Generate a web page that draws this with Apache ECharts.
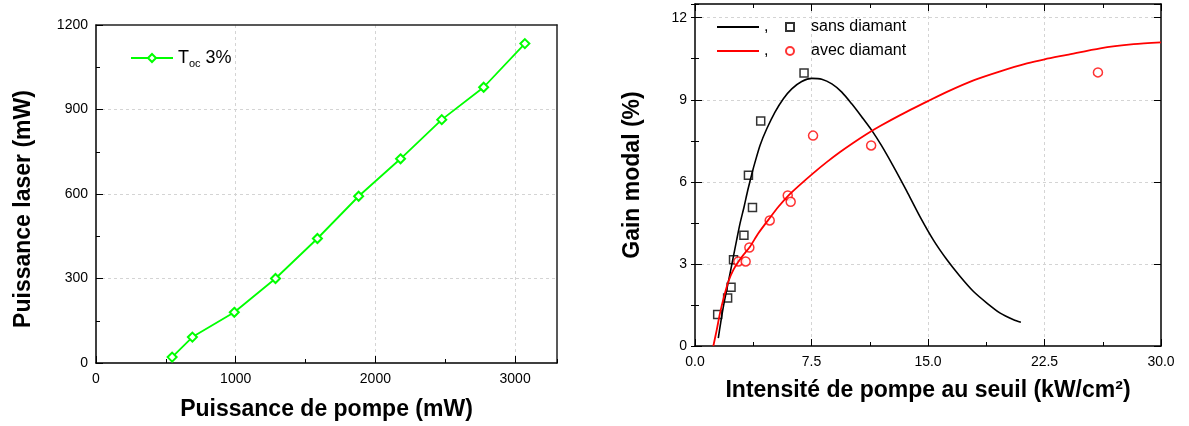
<!DOCTYPE html>
<html><head><meta charset="utf-8">
<script src="https://cdn.jsdelivr.net/npm/echarts@6/dist/echarts.min.js"></script>
<style>html,body{margin:0;padding:0;background:#fff}#c{width:1189px;height:426px}</style>
</head><body><div id="c"></div>
<script>
// ---- Left chart data ----
const pumpPower = [545, 690, 990, 1285, 1585, 1880, 2180, 2475, 2775, 3070];
const laserPower = [21, 92, 180, 300, 442, 592, 725, 864, 979, 1134];

// ---- Right chart data ----
const sansX = [1.46, 2.10, 2.32, 2.48, 3.15, 3.44, 3.70, 4.23, 7.02];
const sansY = [1.15, 1.75, 2.15, 3.15, 4.05, 6.24, 5.06, 8.22, 9.98];
const avecX = [2.79, 3.26, 3.50, 4.81, 5.97, 6.16, 7.60, 11.34, 25.94];
const avecY = [3.09, 3.09, 3.60, 4.59, 5.50, 5.27, 7.69, 7.33, 10.0];

const sansFitX = [1.50, 1.65, 1.83, 2.04, 2.26, 2.47, 2.68, 2.90, 3.16, 3.40, 3.70, 3.87, 4.19, 4.62, 5.15, 5.69, 6.23, 6.87, 7.52, 8.16, 8.81, 9.45, 10.09, 10.74, 11.38, 12.00, 12.70, 13.21, 13.64, 14.50, 15.36, 16.22, 17.07, 17.93, 18.79, 19.65, 20.51, 20.98];
const sansFitY = [0.29, 0.84, 1.45, 2.05, 2.66, 3.27, 3.87, 4.48, 5.09, 5.70, 6.38, 6.73, 7.34, 7.94, 8.55, 9.04, 9.40, 9.67, 9.78, 9.75, 9.58, 9.28, 8.85, 8.37, 7.88, 7.33, 6.64, 6.11, 5.65, 4.71, 3.86, 3.15, 2.54, 1.99, 1.57, 1.20, 0.96, 0.87];

const avecFitX = [1.18, 1.40, 1.61, 1.87, 2.15, 2.47, 2.79, 3.16, 3.54, 4.08, 4.72, 5.37, 6.01, 6.77, 7.62, 8.48, 9.34, 10.20, 11.06, 11.92, 13.21, 15.03, 16.22, 17.93, 19.65, 21.37, 22.51, 23.95, 26.09, 28.24, 30.0];
const avecFitY = [0.0, 0.59, 1.20, 1.81, 2.36, 2.78, 3.08, 3.36, 3.63, 4.12, 4.61, 5.09, 5.50, 5.90, 6.32, 6.72, 7.09, 7.43, 7.75, 8.04, 8.44, 8.96, 9.29, 9.71, 10.04, 10.33, 10.48, 10.64, 10.88, 11.03, 11.10];

const leftXTicks = [0, 1000, 2000, 3000];
const leftYTicks = [0, 300, 600, 900, 1200];
const rightXTicks = [0, 7.5, 15, 22.5, 30];
const rightYTicks = [0, 3, 6, 9, 12];

const zip = (a, b) => a.map((v, i) => [v, b[i]]);
const FONT = 'Liberation Sans, Arial, sans-serif';
const black = '#000';
const split = { show: true, showMinLine: false, showMaxLine: false, lineStyle: { color: '#d4d4d4', type: [3, 3], width: 1 } };
const label = { color: black, fontSize: 14, fontFamily: FONT, margin: 8 };
const xLabel = { color: black, fontSize: 14, fontFamily: FONT, margin: 9 };
const lineIcon = 'rect';

function majorAxis(o) {
  return Object.assign({
    type: 'value',
    axisLine: { show: true, onZero: false, lineStyle: { color: black, width: 1.5 } },
    axisTick: { show: true, inside: true, length: 7, lineStyle: { color: black, width: 1 } },
    axisLabel: Object.assign({}, label),
    splitLine: { show: false }
  }, o);
}
function minorAxis(o) {
  return Object.assign({
    type: 'value',
    axisLine: { show: false },
    axisTick: { show: true, inside: true, length: 4, lineStyle: { color: black, width: 1 } },
    axisLabel: { show: false },
    splitLine: { show: false }
  }, o);
}
function frameAxis(o) {
  return Object.assign({
    type: 'value',
    axisLine: { show: true, onZero: false, lineStyle: { color: '#222', width: 1.5 } },
    axisTick: { show: false }, axisLabel: { show: false }, splitLine: { show: false }
  }, o);
}

const chart = echarts.init(document.getElementById('c'), null, { renderer: 'canvas' });
chart.setOption({
  backgroundColor: '#fff',
  animation: false,
  textStyle: { fontFamily: FONT },
  grid: [
    { left: 96, right: 632, top: 25, bottom: 61 },
    { left: 695, right: 28, top: 4, bottom: 80 }
  ],
  legend: [
    {
      data: ['Toc'], left: 130, top: 49, padding: 0, itemWidth: 42, itemHeight: 10, itemGap: 5,
      formatter: () => '{n|T}{s|oc}{n| 3%}',
      textStyle: {
        rich: {
          n: { fontSize: 18, fontFamily: FONT, color: black, lineHeight: 22 },
          s: { fontSize: 11, fontFamily: FONT, color: black, lineHeight: 12, verticalAlign: 'bottom', padding: [6, 0, 0, 0] }
        }
      }
    },
    {
      data: [{ name: 'fit sans diamant', icon: lineIcon }, { name: 'fit avec diamant', icon: lineIcon }],
      orient: 'vertical', left: 717, top: 18, padding: 0,
      itemWidth: 42, itemHeight: 2, itemGap: 6,
      formatter: () => ',',
      textStyle: { fontSize: 16, fontFamily: FONT, color: black, lineHeight: 18 }
    },
    {
      data: ['sans diamant', 'avec diamant'], orient: 'vertical', left: 785, top: 18, padding: 0,
      itemWidth: 8, itemHeight: 8, itemGap: 6,
      textStyle: { fontSize: 16, fontFamily: FONT, color: black, lineHeight: 18, padding: [0, 0, 0, 12] }
    }
  ],
  xAxis: [
    majorAxis({ gridIndex: 0, position: 'bottom', min: 0, max: 3300, interval: 1000,
      axisLabel: Object.assign({}, xLabel, { showMaxLabel: false, formatter: v => leftXTicks.includes(v) ? String(v) : '' }),
      splitLine: split,
      name: 'Puissance de pompe (mW)', nameLocation: 'middle', nameGap: 35,
      nameTextStyle: { fontSize: 23, fontWeight: 'bold', color: black, fontFamily: FONT } }),
    minorAxis({ gridIndex: 0, position: 'bottom', min: 0, max: 3300, interval: 500 }),
    frameAxis({ gridIndex: 0, position: 'top', min: 0, max: 3300 }),
    majorAxis({ gridIndex: 1, position: 'bottom', min: 0, max: 30, interval: 7.5,
      axisLabel: Object.assign({}, xLabel, { formatter: v => rightXTicks.includes(v) ? v.toFixed(1) : '' }),
      minorTick: { show: true, splitNumber: 2, length: 4, lineStyle: { color: black, width: 1 } },
      splitLine: split,
      name: 'Intensité de pompe au seuil (kW/cm²)', nameLocation: 'middle', nameGap: 33,
      nameTextStyle: { fontSize: 23, fontWeight: 'bold', color: black, fontFamily: FONT } }),
    majorAxis({ gridIndex: 1, position: 'top', min: 0, max: 30, interval: 7.5,
      axisLabel: { show: false },
      minorTick: { show: true, splitNumber: 2, length: 4, lineStyle: { color: black, width: 1 } } })
  ],
  yAxis: [
    majorAxis({ gridIndex: 0, position: 'left', min: 0, max: 1200, interval: 300,
      axisLabel: Object.assign({}, label, { formatter: v => leftYTicks.includes(v) ? String(v) : '' }),
      splitLine: split,
      name: 'Puissance laser (mW)', nameLocation: 'middle', nameGap: 61,
      nameTextStyle: { fontSize: 23, fontWeight: 'bold', color: black, fontFamily: FONT, padding: [0, 30, 0, 0] } }),
    minorAxis({ gridIndex: 0, position: 'left', min: 0, max: 1200, interval: 150 }),
    frameAxis({ gridIndex: 0, position: 'right', min: 0, max: 1200 }),
    majorAxis({ gridIndex: 1, position: 'left', min: 0, max: 12.5, interval: 3,
      axisLabel: Object.assign({}, label, { showMaxLabel: false, formatter: v => rightYTicks.includes(v) ? String(v) : '' }),
      splitLine: split,
      name: 'Gain modal (%)', nameLocation: 'middle', nameGap: 51,
      nameTextStyle: { fontSize: 23, fontWeight: 'bold', color: black, fontFamily: FONT } }),
    minorAxis({ gridIndex: 1, position: 'left', min: 0, max: 12.5, interval: 1.5 }),
    majorAxis({ gridIndex: 1, position: 'right', min: 0, max: 12.5, interval: 3, axisLabel: { show: false } }),
    minorAxis({ gridIndex: 1, position: 'right', min: 0, max: 12.5, interval: 1.5 })
  ],
  series: [
    {
      name: 'Toc', type: 'line', xAxisIndex: 0, yAxisIndex: 0,
      data: zip(pumpPower, laserPower),
      symbol: 'diamond', symbolSize: 9,
      lineStyle: { color: '#00ff00', width: 1.8 },
      itemStyle: { color: '#fff', borderColor: '#00ff00', borderWidth: 2 }
    },
    {
      name: 'fit sans diamant', type: 'line', xAxisIndex: 3, yAxisIndex: 3,
      data: zip(sansFitX, sansFitY), symbol: 'none', smooth: 0.25,
      lineStyle: { color: '#000', width: 1.6 }, itemStyle: { color: '#000' }
    },
    {
      name: 'fit avec diamant', type: 'line', xAxisIndex: 3, yAxisIndex: 3,
      data: zip(avecFitX, avecFitY), symbol: 'none', smooth: 0.25,
      lineStyle: { color: '#ff0000', width: 1.8 }, itemStyle: { color: '#ff0000' }
    },
    {
      name: 'sans diamant', type: 'scatter', xAxisIndex: 3, yAxisIndex: 3,
      data: zip(sansX, sansY), symbol: 'rect', symbolSize: 8,
      itemStyle: { color: '#fff', borderColor: '#000', borderWidth: 1.5 }
    },
    {
      name: 'avec diamant', type: 'scatter', xAxisIndex: 3, yAxisIndex: 3,
      data: zip(avecX, avecY), symbol: 'circle', symbolSize: 9,
      itemStyle: { color: '#fff', borderColor: '#ff0000', borderWidth: 1.5 }
    }
  ]
});
</script></body></html>
